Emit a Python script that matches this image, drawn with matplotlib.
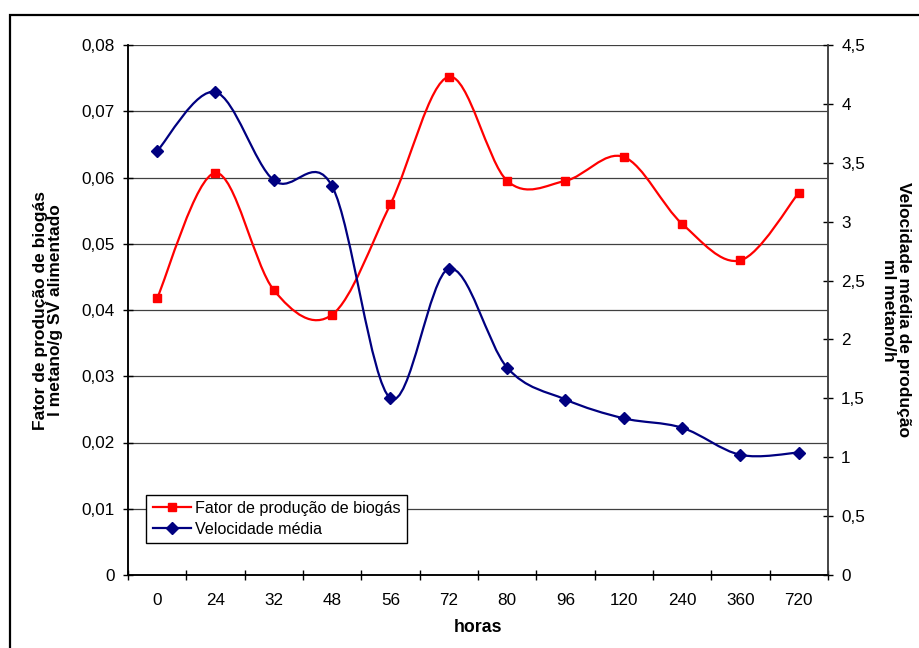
import matplotlib
matplotlib.use("Agg")
from matplotlib import pyplot as plt
from matplotlib.path import Path
from matplotlib.patches import PathPatch, Rectangle
from matplotlib.lines import Line2D
import numpy as np

plt.rcParams['font.family'] = ['Liberation Sans', 'DejaVu Sans']

horas = ['0', '24', '32', '48', '56', '72', '80', '96', '120', '240', '360', '720']
fator = [0.0418, 0.0607, 0.0430, 0.0393, 0.0560, 0.0752, 0.0595, 0.0595, 0.0631, 0.0530, 0.0475, 0.0577]
velocidade = [3.60, 4.10, 3.35, 3.30, 1.50, 2.60, 1.76, 1.49, 1.33, 1.25, 1.02, 1.04]


# curva suavizada tipo excel (bezier com tangentes catmull-rom)
def smooth_path(xs, ys):
    pts = np.column_stack([xs, ys]).astype(float)
    n = len(pts)
    verts = [pts[0]]
    codes = [Path.MOVETO]
    for i in range(n - 1):
        p0 = pts[i - 1] if i > 0 else pts[i]
        p1 = pts[i]
        p2 = pts[i + 1]
        p3 = pts[i + 2] if i + 2 < n else pts[i + 1]
        c1 = p1 + (p2 - p0) / 6.0
        c2 = p2 - (p3 - p1) / 6.0
        verts += [c1, c2, p2]
        codes += [Path.CURVE4] * 3
    return Path(verts, codes)


x = np.arange(len(horas))

fig = plt.figure(figsize=(9.2, 6.48), dpi=100)
ax = fig.add_axes([128 / 920, 1 - 575 / 648, 700 / 920, 530 / 648])
ax2 = ax.twinx()

red = '#ff0000'
blue = '#000080'

ax.add_patch(PathPatch(smooth_path(x, fator), facecolor='none', edgecolor=red, lw=1.6, zorder=3))
ax.plot(x, fator, ls='none', marker='s', ms=6, color=red, zorder=4)

ax2.add_patch(PathPatch(smooth_path(x, velocidade), facecolor='none', edgecolor=blue, lw=1.6, zorder=3))
ax2.plot(x, velocidade, ls='none', marker='D', ms=6.5, color=blue, zorder=4)

ax.set_xlim(-0.5, len(horas) - 0.5)
ax.set_ylim(0, 0.08)
ax2.set_ylim(0, 4.5)

ax.set_yticks(np.arange(0, 0.081, 0.01))
ax.set_yticklabels([('%.2f' % v).replace('.', ',') if v > 0 else '0' for v in np.arange(0, 0.081, 0.01)])
ax2.set_yticks(np.arange(0, 4.51, 0.5))
ax2.set_yticklabels([('%g' % v).replace('.', ',') for v in np.arange(0, 4.51, 0.5)])

ax.set_xticks(x)
ax.set_xticklabels(horas)
ax.set_xticks(np.arange(-0.5, len(horas)), minor=True)
ax.tick_params(axis='x', which='major', length=0, pad=13, labelsize=12.3)
ax.tick_params(axis='x', which='minor', direction='inout', length=7, width=1)
ax.tick_params(axis='y', direction='inout', length=7, width=1, labelsize=12.3, pad=6)
ax2.tick_params(axis='y', direction='inout', length=7, width=1, labelsize=12.3, pad=6)

ax.grid(axis='y', color='#404040', lw=0.9)
ax.set_axisbelow(True)

for a in (ax, ax2):
    a.spines['top'].set_visible(False)
    a.spines['left'].set_linewidth(1.1)
    a.spines['bottom'].set_linewidth(1.1)
    a.spines['right'].set_linewidth(1.1)
    a.spines['right'].set_color('#404040')

ax.set_xlabel('horas', fontweight='bold', fontsize=12.8, labelpad=8)
ax.set_ylabel('Fator de produção de biogás\nl metano/g SV alimentado', fontweight='bold', fontsize=12.5,
              labelpad=13, linespacing=1.05)
ax2.set_ylabel('Velocidade média de produção\nml metano/h', fontweight='bold', fontsize=12.5,
               rotation=-90, labelpad=33, linespacing=1.0)

handles = [Line2D([], [], color=red, lw=1.6, marker='s', ms=6),
           Line2D([], [], color=blue, lw=1.6, marker='D', ms=6.5)]
leg = ax2.legend(handles, ['Fator de produção de biogás', 'Velocidade média'],
                 loc='lower left', bbox_to_anchor=(0.026, 0.06), fontsize=11.6,
                 fancybox=False, framealpha=1, edgecolor='black', handlelength=2.4,
                 handletextpad=0.2, borderpad=0.4, labelspacing=0.35, borderaxespad=0)
leg.get_frame().set_linewidth(1)

fig.patches.append(Rectangle((10 / 920, -0.1), 2, 1.1 - 15 / 648, transform=fig.transFigure,
                             facecolor='none', edgecolor='black', lw=1.6))

fig.savefig('out.png', dpi=100)
